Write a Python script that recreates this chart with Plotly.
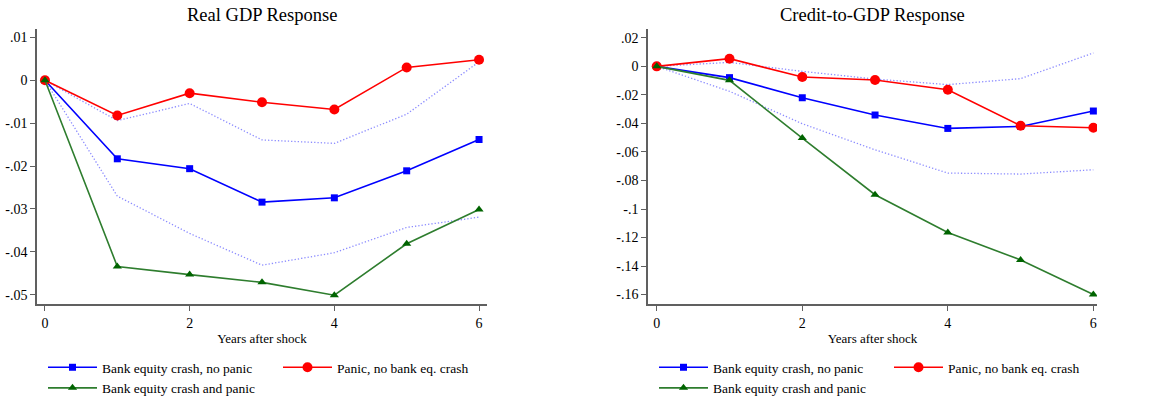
import plotly.graph_objects as go

years = [0, 1, 2, 3, 4, 5, 6]

# Real GDP response
gdp_bank_no_panic = [0, -0.0183, -0.0206, -0.0284, -0.0274, -0.0211, -0.0138]
gdp_panic_no_bank = [0, -0.0082, -0.0030, -0.0051, -0.0068, 0.0030, 0.0048]
gdp_bank_and_panic = [0, -0.0434, -0.0453, -0.0471, -0.0501, -0.0381, -0.0301]
gdp_ci_upper = [0, -0.0094, -0.0054, -0.0139, -0.0147, -0.0079, 0.0043]
gdp_ci_lower = [0, -0.0270, -0.0357, -0.0431, -0.0402, -0.0343, -0.0319]

# Credit-to-GDP response
cr_bank_no_panic = [0, -0.0079, -0.0220, -0.0341, -0.0435, -0.0421, -0.0313]
cr_panic_no_bank = [0, 0.0054, -0.0075, -0.0096, -0.0164, -0.0416, -0.0430]
cr_bank_and_panic = [0, -0.0098, -0.0503, -0.0900, -0.1165, -0.1357, -0.1600]
cr_ci_upper = [0, 0.0028, -0.0035, -0.0089, -0.0128, -0.0086, 0.0094]
cr_ci_lower = [0, -0.0175, -0.0402, -0.0585, -0.0748, -0.0755, -0.0725]

series_names = ["Bank equity crash, no panic", "Panic, no bank eq. crash", "Bank equity crash and panic"]
x_tickvals = [0, 2, 4, 6]
gdp_tickvals = [0.01, 0, -0.01, -0.02, -0.03, -0.04, -0.05]
gdp_ticktext = [".01", "0", "-.01", "-.02", "-.03", "-.04", "-.05"]
cr_tickvals = [0.02, 0, -0.02, -0.04, -0.06, -0.08, -0.10, -0.12, -0.14, -0.16]
cr_ticktext = [".02", "0", "-.02", "-.04", "-.06", "-.08", "-.1", "-.12", "-.14", "-.16"]

FONT = "Liberation Serif, Times New Roman, serif"
BLUE = "#0000FF"
RED = "#FF0000"
GREEN_LINE = "#2E7D2E"
GREEN_MARK = "#006400"
CI = "#8C8CFF"
AXIS = "#606060"

fig = go.Figure()

def add_panel(xa, ya, legend, blue, red, green, up, lo):
    for ci in (up, lo):
        fig.add_trace(go.Scatter(x=years, y=ci, mode="lines", xaxis=xa, yaxis=ya,
                                 line=dict(color=CI, width=1.3, dash="1.3px,2px"),
                                 showlegend=False, hoverinfo="skip"))
    fig.add_trace(go.Scatter(x=years, y=blue, mode="lines+markers", name=series_names[0],
                             xaxis=xa, yaxis=ya, legend=legend, legendgroup="a",
                             line=dict(color=BLUE, width=1.6),
                             marker=dict(symbol="square", size=7, color=BLUE)))
    fig.add_trace(go.Scatter(x=years, y=red, mode="lines+markers", name=series_names[1],
                             xaxis=xa, yaxis=ya, legend=legend, legendgroup="b",
                             line=dict(color=RED, width=1.6),
                             marker=dict(symbol="circle", size=10, color=RED)))
    fig.add_trace(go.Scatter(x=years, y=green, mode="lines+markers", name=series_names[2],
                             xaxis=xa, yaxis=ya, legend=legend, legendgroup="a",
                             line=dict(color=GREEN_LINE, width=1.6),
                             marker=dict(symbol="triangle-up", size=8, color=GREEN_MARK)))

add_panel("x", "y", "legend", gdp_bank_no_panic, gdp_panic_no_bank, gdp_bank_and_panic,
          gdp_ci_upper, gdp_ci_lower)
add_panel("x2", "y2", "legend2", cr_bank_no_panic, cr_panic_no_bank, cr_bank_and_panic,
          cr_ci_upper, cr_ci_lower)

W, H = 1154, 404
axis_common = dict(showline=True, linecolor=AXIS, linewidth=1.5, ticks="outside",
                   ticklen=5, tickwidth=1.3, tickcolor=AXIS, showgrid=False,
                   zeroline=False, automargin=False,
                   tickfont=dict(family=FONT, size=14, color="black"))

legend_common = dict(orientation="h", traceorder="grouped", y=0, xanchor="left",
                     yanchor="bottom", font=dict(family=FONT, size=13.5),
                     itemwidth=49, entrywidth=171, bgcolor="rgba(0,0,0,0)")

yd = [1 - 304 / H, 1 - 29 / H]
fig.update_layout(
    width=W, height=H,
    margin=dict(l=0, r=0, t=0, b=0),
    paper_bgcolor="white", plot_bgcolor="white",
    font=dict(family=FONT, color="black"),
    xaxis=dict(domain=[37 / W, 487 / W], range=[-0.11, 6.11], tickvals=x_tickvals,
               anchor="y", title=dict(text="Years after shock", font=dict(size=13), standoff=4),
               **axis_common),
    yaxis=dict(domain=yd, range=[-0.05215, 0.01196], tickvals=gdp_tickvals,
               ticktext=gdp_ticktext, anchor="x", **axis_common),
    xaxis2=dict(domain=[648 / W, 1097 / W], range=[-0.12, 6.05], tickvals=x_tickvals,
                anchor="y2", title=dict(text="Years after shock", font=dict(size=13), standoff=4),
                **axis_common),
    yaxis2=dict(domain=yd, range=[-0.1666, 0.0262], tickvals=cr_tickvals,
                ticktext=cr_ticktext, anchor="x2", **axis_common),
    legend=dict(x=43 / W, **legend_common),
    legend2=dict(x=654 / W, **legend_common),
    annotations=[
        dict(text="Real GDP Response", x=0.5, xref="x domain", y=1 - 15 / H, yref="paper",
             yanchor="middle", showarrow=False, font=dict(size=18.5)),
        dict(text="Credit-to-GDP Response", x=0.5, xref="x2 domain", y=1 - 15 / H, yref="paper",
             yanchor="middle", showarrow=False, font=dict(size=18.5)),
    ],
)

fig.write_html("out.html", config={"displayModeBar": False},
               post_script="document.body.style.margin='0';document.body.style.overflow='hidden';")
